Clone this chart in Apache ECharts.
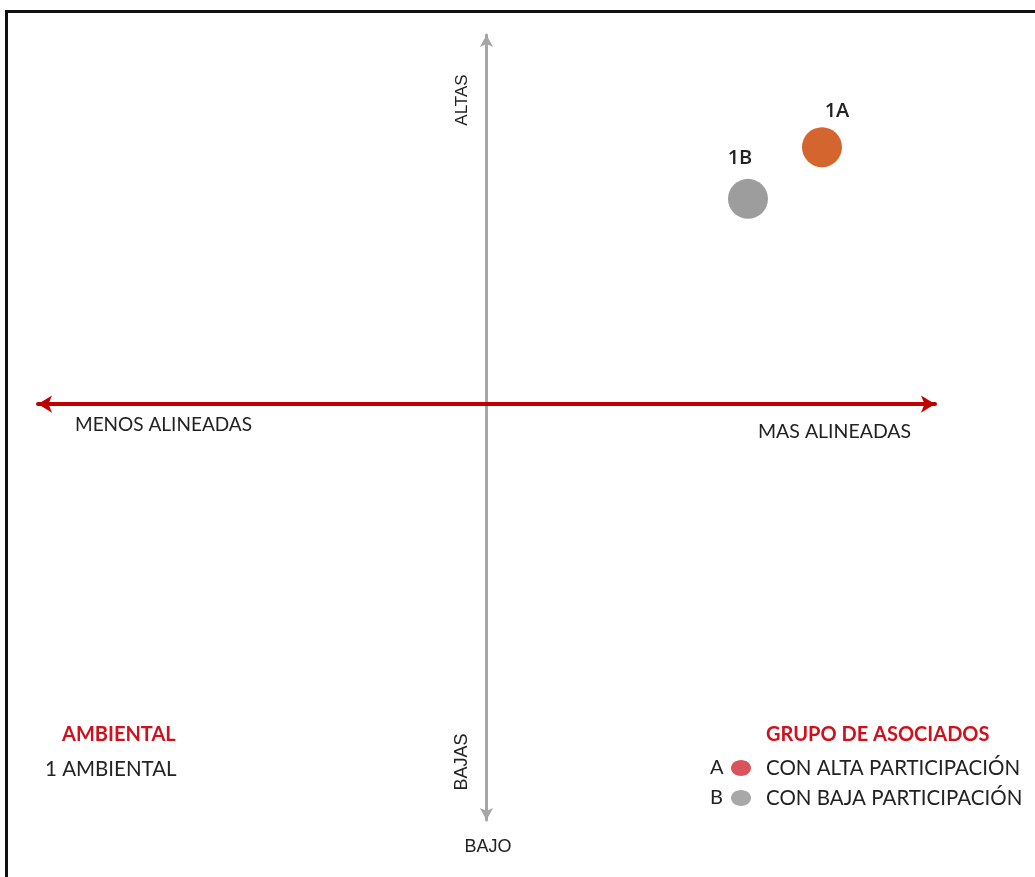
<!DOCTYPE html>
<html>
<head>
<meta charset="utf-8">
<script src="https://cdn.jsdelivr.net/npm/echarts@6/dist/echarts.min.js"></script>
<style>
html,body{margin:0;padding:0;background:#fff;}
#chart{width:1035px;height:877px;}
</style>
</head>
<body>
<div id="chart"></div>
<script>
// ---- data ----
const pointNames = ['1A', '1B'];
const pointX = [7.48, 5.83];
const pointY = [6.96, 5.56];
const pointColors = ['#D4652F', '#9D9D9D'];
const pointLabelOffsets = [[15, 0], [-8, -5]];

const xAxisLabels = ['MENOS ALINEADAS', 'MAS ALINEADAS'];
const yAxisLabels = ['ALTAS', 'BAJAS', 'BAJO'];
const leftLegendTitle = 'AMBIENTAL';
const leftLegendItems = ['1 AMBIENTAL'];
const rightLegendTitle = 'GRUPO DE ASOCIADOS';
const rightLegendKeys = ['A', 'B'];
const rightLegendItems = ['CON ALTA PARTICIPACIÓN', 'CON BAJA PARTICIPACIÓN'];
const rightLegendColors = ['#D9545A', '#A8A8A8'];

const FONT = 'Lato';
const chart = echarts.init(document.getElementById('chart'), null, {renderer: 'canvas'});

const graphics = [
  // frame
  {type: 'rect', shape: {x: 6.5, y: 11.5, width: 1200, height: 1000},
   style: {fill: 'none', stroke: '#111', lineWidth: 3}, z: 100},
  // axis texts
  {type: 'text', x: 75, y: 425, style: {text: xAxisLabels[0], font: '19px ' + FONT, fill: '#222', verticalAlign: 'middle'}},
  {type: 'text', x: 758, y: 432, style: {text: xAxisLabels[1], font: '19.5px ' + FONT, fill: '#222', verticalAlign: 'middle'}},
  {type: 'text', x: 462, y: 100, rotation: Math.PI / 2,
   style: {text: yAxisLabels[0], font: '17px "Liberation Sans"', fill: '#222', align: 'center', verticalAlign: 'middle'}},
  {type: 'text', x: 462, y: 762, rotation: Math.PI / 2,
   style: {text: yAxisLabels[1], font: '18px "Liberation Sans"', fill: '#222', align: 'center', verticalAlign: 'middle'}},
  {type: 'text', x: 488, y: 847,
   style: {text: yAxisLabels[2], font: '18px "Liberation Sans"', fill: '#222', align: 'center', verticalAlign: 'middle'}},
  // left legend
  {type: 'text', x: 62, y: 735,
   style: {text: leftLegendTitle, font: 'bold 20px ' + FONT, fill: '#D0101C', verticalAlign: 'middle'}},
  {type: 'text', x: 45, y: 769,
   style: {text: leftLegendItems[0], font: '20.5px ' + FONT, fill: '#222', verticalAlign: 'middle'}},
  // right legend
  {type: 'text', x: 766, y: 735,
   style: {text: rightLegendTitle, font: 'bold 20px ' + FONT, fill: '#D0101C', verticalAlign: 'middle'}}
];
rightLegendItems.forEach((t, i) => {
  const y = 768 + i * 30;
  graphics.push({type: 'text', x: 710, y: y, style: {text: rightLegendKeys[i], font: '20px ' + FONT, fill: '#222', verticalAlign: 'middle'}});
  graphics.push({type: 'ellipse', shape: {cx: 741, cy: y, rx: 10, ry: 8}, style: {fill: rightLegendColors[i]}});
  graphics.push({type: 'text', x: 766, y: y, style: {text: t, font: '20.5px ' + FONT, fill: '#222', verticalAlign: 'middle'}});
});

const option = {
  backgroundColor: '#fff',
  animation: false,
  grid: {left: 38, right: 100, top: 35, bottom: 57},
  xAxis: {
    type: 'value', min: -10, max: 10,
    axisLine: {show: true, onZero: true, symbol: ['arrow', 'arrow'], symbolSize: [13, 14],
      lineStyle: {color: '#C00000', width: 4}},
    axisTick: {show: false}, axisLabel: {show: false}, splitLine: {show: false}
  },
  yAxis: {
    type: 'value', min: -11.27, max: 10,
    axisLine: {show: true, onZero: true, symbol: ['arrow', 'arrow'], symbolSize: [10, 12],
      lineStyle: {color: '#A6A6A6', width: 3}},
    axisTick: {show: false}, axisLabel: {show: false}, splitLine: {show: false}
  },
  series: [{
    type: 'scatter',
    symbolSize: 40,
    itemStyle: {opacity: 1},
    data: pointNames.map((n, i) => ({
      name: n,
      value: [pointX[i], pointY[i]],
      itemStyle: {color: pointColors[i], opacity: 1},
      label: {offset: pointLabelOffsets[i]}
    })),
    label: {show: true, position: 'top', distance: 6, formatter: '{b}',
      fontFamily: 'Open Sans', fontSize: 20, fontWeight: 600, color: '#222'},
    z: 5
  }],
  graphic: graphics
};
chart.setOption(option);
</script>
</body>
</html>
